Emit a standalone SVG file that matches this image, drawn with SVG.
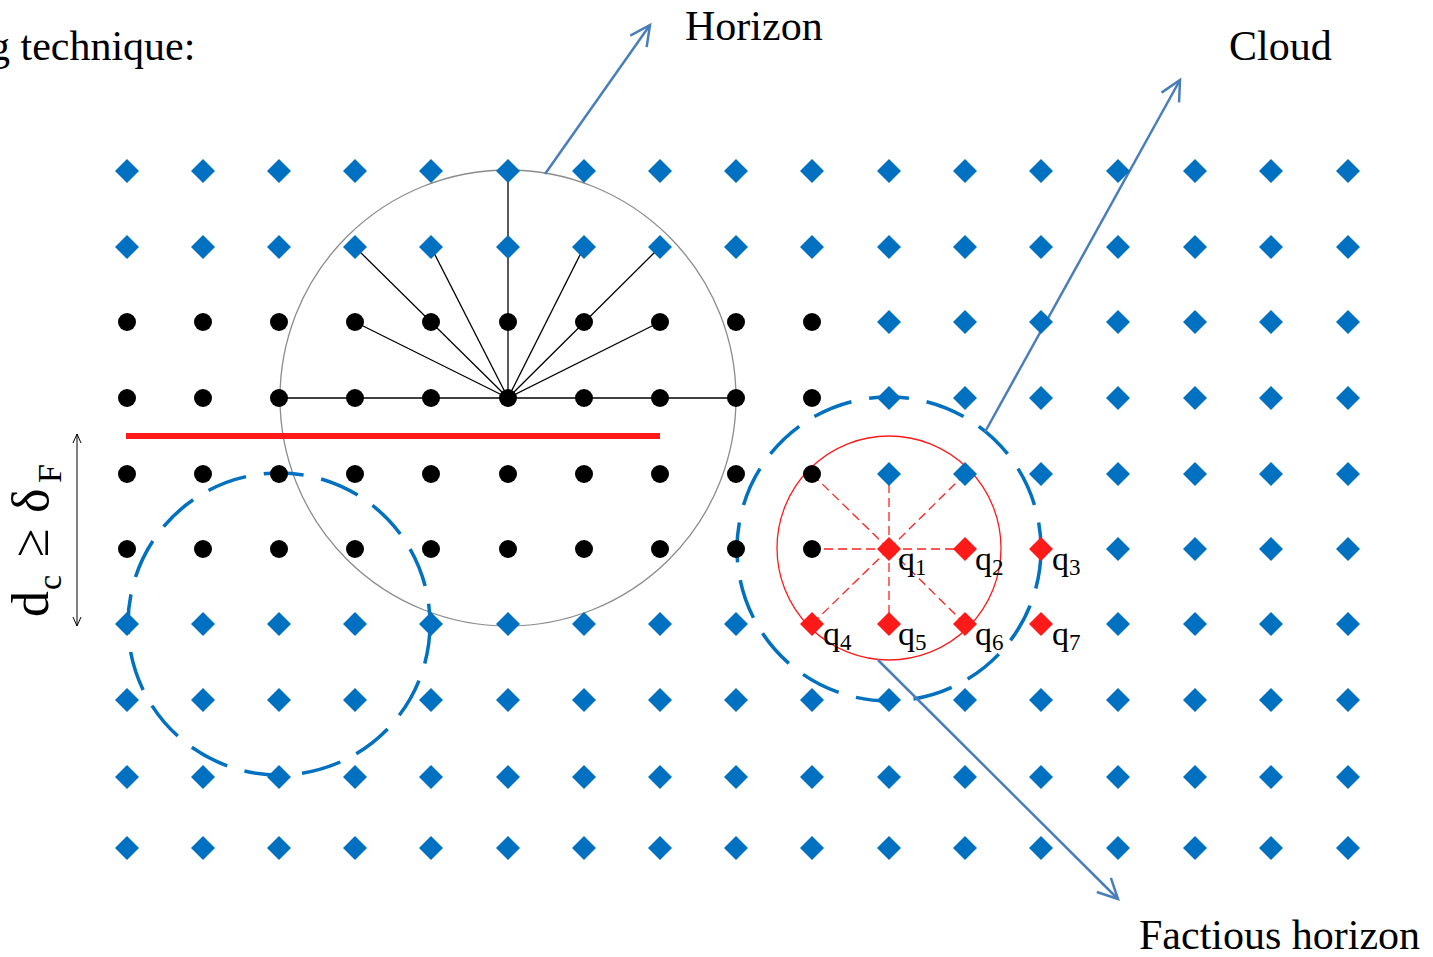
<svg xmlns="http://www.w3.org/2000/svg" xmlns:xlink="http://www.w3.org/1999/xlink" width="1433" height="957" viewBox="0 0 1433 957">
<style>
.txt{font-family:"Liberation Serif","Times New Roman",serif;fill:#000}
.lbl{font-size:42px}
.q{font-size:34px}
.sub{font-size:23px}
.arrow{stroke:#4A7EBB;stroke-width:2.5;fill:none}
.spoke{stroke:#000;stroke-width:1.3;fill:none}
.rdash{stroke:#FF2020;stroke-width:1.3;stroke-dasharray:9 5;fill:none}
.bcirc{stroke:#0070C0;stroke-width:3.5;stroke-dasharray:40 18;fill:none}
</style>
<defs>
<path id="bd" d="M0,-12 L12,0 L0,12 L-12,0Z" fill="#0070C0"/>
<path id="rd" d="M0,-12 L12,0 L0,12 L-12,0Z" fill="#FF1A1A"/>
<circle id="kd" r="9" fill="#000"/>
<marker id="ah" markerUnits="userSpaceOnUse" markerWidth="30" markerHeight="30" refX="22" refY="12" orient="auto" viewBox="0 0 30 24">
<path d="M2,2 L22,12 L2,22" fill="none" stroke="#4A7EBB" stroke-width="2.5"/>
</marker>
<marker id="sa" markerUnits="userSpaceOnUse" markerWidth="12" markerHeight="12" refX="10" refY="5" orient="auto-start-reverse" viewBox="0 0 12 10">
<path d="M1,1 L10,5 L1,9" fill="none" stroke="#000" stroke-width="1"/>
</marker>
</defs>
<rect width="1433" height="957" fill="#fff"/>

<g id="regions">
<circle id="horizon-circle" cx="508" cy="398" r="228" fill="none" stroke="#8C8C8C" stroke-width="1.3"/>
<circle id="cloud-circle" class="bcirc" cx="889" cy="549" r="152"/>
<circle id="left-cloud-circle" class="bcirc" cx="279" cy="624" r="151"/>
<circle id="factious-circle" cx="889" cy="548" r="112" fill="none" stroke="#FF1A1A" stroke-width="1.3"/>
<line id="red-bar" x1="126" y1="436" x2="660" y2="436" stroke="#FF1A1A" stroke-width="6"/>
</g>

<g id="connectors">
<g id="horizon-spokes">
<line class="spoke" x1="508" y1="398" x2="508" y2="171"/>
<line class="spoke" x1="508" y1="398" x2="355" y2="247"/>
<line class="spoke" x1="508" y1="398" x2="431" y2="247"/>
<line class="spoke" x1="508" y1="398" x2="584" y2="247"/>
<line class="spoke" x1="508" y1="398" x2="660" y2="247"/>
<line class="spoke" x1="508" y1="398" x2="355" y2="322"/>
<line class="spoke" x1="508" y1="398" x2="660" y2="322"/>
<line class="spoke" x1="279" y1="398" x2="736" y2="398"/>
</g>
<g id="factious-spokes">
<line class="rdash" x1="889" y1="549" x2="812" y2="474"/>
<line class="rdash" x1="889" y1="549" x2="889" y2="474"/>
<line class="rdash" x1="889" y1="549" x2="965" y2="474"/>
<line class="rdash" x1="889" y1="549" x2="812" y2="549"/>
<line class="rdash" x1="889" y1="549" x2="965" y2="549"/>
<line class="rdash" x1="889" y1="549" x2="812" y2="624"/>
<line class="rdash" x1="889" y1="549" x2="889" y2="624"/>
<line class="rdash" x1="889" y1="549" x2="965" y2="624"/>
</g>
<line id="arrow-horizon" class="arrow" x1="545" y1="174" x2="650" y2="25" marker-end="url(#ah)"/>
<line id="arrow-cloud" class="arrow" x1="985" y1="432" x2="1180" y2="80" marker-end="url(#ah)"/>
<line id="arrow-factious" class="arrow" x1="878" y1="660" x2="1118" y2="899" marker-end="url(#ah)"/>
<line id="dim-arrow" x1="77" y1="434" x2="77" y2="626" stroke="#000" stroke-width="1" marker-start="url(#sa)" marker-end="url(#sa)"/>
</g>

<g id="grid">
<g id="row0">
<use href="#bd" x="127" y="171"/><use href="#bd" x="203" y="171"/><use href="#bd" x="279" y="171"/><use href="#bd" x="355" y="171"/><use href="#bd" x="431" y="171"/><use href="#bd" x="508" y="171"/><use href="#bd" x="584" y="171"/><use href="#bd" x="660" y="171"/><use href="#bd" x="736" y="171"/><use href="#bd" x="812" y="171"/><use href="#bd" x="889" y="171"/><use href="#bd" x="965" y="171"/><use href="#bd" x="1041" y="171"/><use href="#bd" x="1118" y="171"/><use href="#bd" x="1195" y="171"/><use href="#bd" x="1271" y="171"/><use href="#bd" x="1348" y="171"/>
</g>
<g id="row1">
<use href="#bd" x="127" y="247"/><use href="#bd" x="203" y="247"/><use href="#bd" x="279" y="247"/><use href="#bd" x="355" y="247"/><use href="#bd" x="431" y="247"/><use href="#bd" x="508" y="247"/><use href="#bd" x="584" y="247"/><use href="#bd" x="660" y="247"/><use href="#bd" x="736" y="247"/><use href="#bd" x="812" y="247"/><use href="#bd" x="889" y="247"/><use href="#bd" x="965" y="247"/><use href="#bd" x="1041" y="247"/><use href="#bd" x="1118" y="247"/><use href="#bd" x="1195" y="247"/><use href="#bd" x="1271" y="247"/><use href="#bd" x="1348" y="247"/>
</g>
<g id="row2">
<use href="#kd" x="127" y="322"/><use href="#kd" x="203" y="322"/><use href="#kd" x="279" y="322"/><use href="#kd" x="355" y="322"/><use href="#kd" x="431" y="322"/><use href="#kd" x="508" y="322"/><use href="#kd" x="584" y="322"/><use href="#kd" x="660" y="322"/><use href="#kd" x="736" y="322"/><use href="#kd" x="812" y="322"/><use href="#bd" x="889" y="322"/><use href="#bd" x="965" y="322"/><use href="#bd" x="1041" y="322"/><use href="#bd" x="1118" y="322"/><use href="#bd" x="1195" y="322"/><use href="#bd" x="1271" y="322"/><use href="#bd" x="1348" y="322"/>
</g>
<g id="row3">
<use href="#kd" x="127" y="398"/><use href="#kd" x="203" y="398"/><use href="#kd" x="279" y="398"/><use href="#kd" x="355" y="398"/><use href="#kd" x="431" y="398"/><use href="#kd" x="508" y="398"/><use href="#kd" x="584" y="398"/><use href="#kd" x="660" y="398"/><use href="#kd" x="736" y="398"/><use href="#kd" x="812" y="398"/><use href="#bd" x="889" y="398"/><use href="#bd" x="965" y="398"/><use href="#bd" x="1041" y="398"/><use href="#bd" x="1118" y="398"/><use href="#bd" x="1195" y="398"/><use href="#bd" x="1271" y="398"/><use href="#bd" x="1348" y="398"/>
</g>
<g id="row4">
<use href="#kd" x="127" y="474"/><use href="#kd" x="203" y="474"/><use href="#kd" x="279" y="474"/><use href="#kd" x="355" y="474"/><use href="#kd" x="431" y="474"/><use href="#kd" x="508" y="474"/><use href="#kd" x="584" y="474"/><use href="#kd" x="660" y="474"/><use href="#kd" x="736" y="474"/><use href="#kd" x="812" y="474"/><use href="#bd" x="889" y="474"/><use href="#bd" x="965" y="474"/><use href="#bd" x="1041" y="474"/><use href="#bd" x="1118" y="474"/><use href="#bd" x="1195" y="474"/><use href="#bd" x="1271" y="474"/><use href="#bd" x="1348" y="474"/>
</g>
<g id="row5">
<use href="#kd" x="127" y="549"/><use href="#kd" x="203" y="549"/><use href="#kd" x="279" y="549"/><use href="#kd" x="355" y="549"/><use href="#kd" x="431" y="549"/><use href="#kd" x="508" y="549"/><use href="#kd" x="584" y="549"/><use href="#kd" x="660" y="549"/><use href="#kd" x="736" y="549"/><use href="#kd" x="812" y="549"/><use id="q1" href="#rd" x="889" y="549"/><use id="q2" href="#rd" x="965" y="549"/><use id="q3" href="#rd" x="1041" y="549"/><use href="#bd" x="1118" y="549"/><use href="#bd" x="1195" y="549"/><use href="#bd" x="1271" y="549"/><use href="#bd" x="1348" y="549"/>
</g>
<g id="row6">
<use href="#bd" x="127" y="624"/><use href="#bd" x="203" y="624"/><use href="#bd" x="279" y="624"/><use href="#bd" x="355" y="624"/><use href="#bd" x="431" y="624"/><use href="#bd" x="508" y="624"/><use href="#bd" x="584" y="624"/><use href="#bd" x="660" y="624"/><use href="#bd" x="736" y="624"/><use id="q4" href="#rd" x="812" y="624"/><use id="q5" href="#rd" x="889" y="624"/><use id="q6" href="#rd" x="965" y="624"/><use id="q7" href="#rd" x="1041" y="624"/><use href="#bd" x="1118" y="624"/><use href="#bd" x="1195" y="624"/><use href="#bd" x="1271" y="624"/><use href="#bd" x="1348" y="624"/>
</g>
<g id="row7">
<use href="#bd" x="127" y="700"/><use href="#bd" x="203" y="700"/><use href="#bd" x="279" y="700"/><use href="#bd" x="355" y="700"/><use href="#bd" x="431" y="700"/><use href="#bd" x="508" y="700"/><use href="#bd" x="584" y="700"/><use href="#bd" x="660" y="700"/><use href="#bd" x="736" y="700"/><use href="#bd" x="812" y="700"/><use href="#bd" x="889" y="700"/><use href="#bd" x="965" y="700"/><use href="#bd" x="1041" y="700"/><use href="#bd" x="1118" y="700"/><use href="#bd" x="1195" y="700"/><use href="#bd" x="1271" y="700"/><use href="#bd" x="1348" y="700"/>
</g>
<g id="row8">
<use href="#bd" x="127" y="777"/><use href="#bd" x="203" y="777"/><use href="#bd" x="279" y="777"/><use href="#bd" x="355" y="777"/><use href="#bd" x="431" y="777"/><use href="#bd" x="508" y="777"/><use href="#bd" x="584" y="777"/><use href="#bd" x="660" y="777"/><use href="#bd" x="736" y="777"/><use href="#bd" x="812" y="777"/><use href="#bd" x="889" y="777"/><use href="#bd" x="965" y="777"/><use href="#bd" x="1041" y="777"/><use href="#bd" x="1118" y="777"/><use href="#bd" x="1195" y="777"/><use href="#bd" x="1271" y="777"/><use href="#bd" x="1348" y="777"/>
</g>
<g id="row9">
<use href="#bd" x="127" y="848"/><use href="#bd" x="203" y="848"/><use href="#bd" x="279" y="848"/><use href="#bd" x="355" y="848"/><use href="#bd" x="431" y="848"/><use href="#bd" x="508" y="848"/><use href="#bd" x="584" y="848"/><use href="#bd" x="660" y="848"/><use href="#bd" x="736" y="848"/><use href="#bd" x="812" y="848"/><use href="#bd" x="889" y="848"/><use href="#bd" x="965" y="848"/><use href="#bd" x="1041" y="848"/><use href="#bd" x="1118" y="848"/><use href="#bd" x="1195" y="848"/><use href="#bd" x="1271" y="848"/><use href="#bd" x="1348" y="848"/>
</g>
</g>

<g id="q-labels" class="txt">
<text class="q" x="898" y="570">q<tspan class="sub" dy="5">1</tspan></text>
<text class="q" x="975" y="570">q<tspan class="sub" dy="5">2</tspan></text>
<text class="q" x="1052" y="570">q<tspan class="sub" dy="5">3</tspan></text>
<text class="q" x="823" y="645">q<tspan class="sub" dy="5">4</tspan></text>
<text class="q" x="898" y="645">q<tspan class="sub" dy="5">5</tspan></text>
<text class="q" x="975" y="645">q<tspan class="sub" dy="5">6</tspan></text>
<text class="q" x="1052" y="645">q<tspan class="sub" dy="5">7</tspan></text>
</g>

<g id="label-title"><text class="txt lbl" x="-11" y="60">g technique:</text></g>
<g id="label-horizon"><text class="txt lbl" x="685" y="40">Horizon</text></g>
<g id="label-cloud"><text class="txt lbl" x="1229" y="60">Cloud</text></g>
<g id="label-factious"><text class="txt lbl" x="1139" y="949">Factious horizon</text></g>
<g id="label-dc">
<text class="txt" transform="translate(48,617) rotate(-90)" style="font-size:52px"><tspan x="0" y="0">d</tspan><tspan x="27" y="13" style="font-size:34px">c</tspan><tspan x="60" y="0">≥</tspan><tspan x="104" y="0">δ</tspan><tspan x="134" y="13" style="font-size:34px">F</tspan></text>
</g>
</svg>
